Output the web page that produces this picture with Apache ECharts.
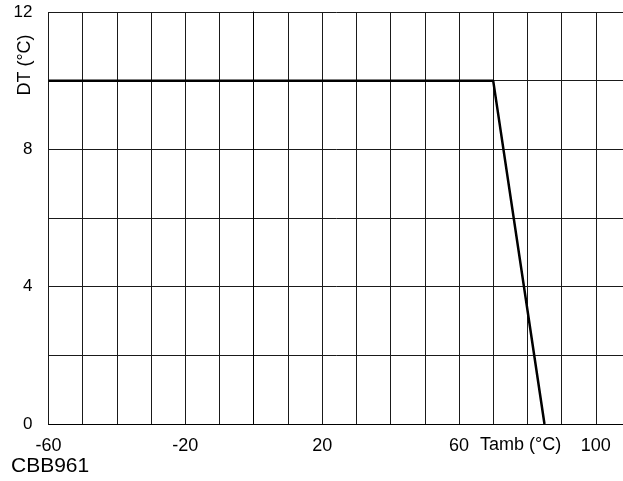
<!DOCTYPE html>
<html>
<head>
<meta charset="utf-8">
<script src="https://cdn.jsdelivr.net/npm/echarts@6/dist/echarts.min.js"></script>
<style>html,body{margin:0;padding:0;background:#fff}#c{width:623px;height:481px}</style>
</head>
<body>
<div id="c"></div>
<script>
// Data
var tambValues = [-60, 70, 85];
var dtValues = [10, 10, 0];
var xTickLabels = [-60, -20, 20, 60, 100];
var yTickLabels = [0, 4, 8, 12];
var xName = 'Tamb (°C)';
var yName = 'DT (°C)';
var footer = 'CBB961';

var points = tambValues.map(function (x, i) { return [x, dtValues[i]]; });
var font = '"Liberation Sans", Arial, sans-serif';
var chart = echarts.init(document.getElementById('c'), null, {renderer: 'canvas'});
chart.setOption({
  animation: false,
  backgroundColor: '#fff',
  grid: {left: 48.5, right: -7, top: 12, bottom: 57, containLabel: false, outerBoundsMode: 'none'},
  xAxis: {
    type: 'value', min: -60, max: 110, interval: 10,
    axisLine: {show: true, onZero: false, lineStyle: {color: '#000', width: 1}},
    axisTick: {show: false},
    splitLine: {show: true, lineStyle: {color: '#1a1a1a', width: 1}},
    axisLabel: {
      margin: 13, color: '#000', fontSize: 18, fontFamily: font,
      formatter: function (v) { return xTickLabels.indexOf(v) >= 0 ? String(v) : ''; }
    }
  },
  yAxis: {
    type: 'value', min: 0, max: 12, interval: 2,
    axisLine: {show: true, lineStyle: {color: '#000', width: 1}},
    axisTick: {show: false},
    splitLine: {show: true, lineStyle: {color: '#1a1a1a', width: 1}},
    axisLabel: {
      margin: 16, color: '#000', fontSize: 17, fontFamily: font,
      formatter: function (v) { return yTickLabels.indexOf(v) >= 0 ? String(v) : ''; }
    }
  },
  graphic: [
    {type: 'text', left: 480, top: 436, style: {text: xName, fill: '#000', font: '18px ' + font}},
    {type: 'text', x: 25, y: 65, rotation: Math.PI / 2,
      style: {text: yName, fill: '#000', font: '18px ' + font, align: 'center', verticalAlign: 'middle'}},
    {type: 'text', left: 11, top: 456, style: {text: footer, fill: '#000', font: '21px ' + font}}
  ],
  series: [{
    type: 'line', data: points, symbol: 'none',
    lineStyle: {color: '#000', width: 2.5}
  }]
});
</script>
</body>
</html>
